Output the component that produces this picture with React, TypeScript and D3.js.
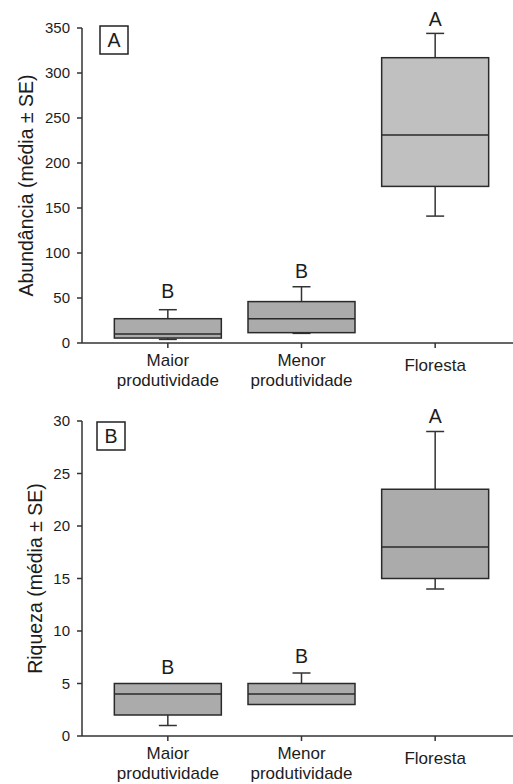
import React from "react";
import * as d3 from "d3";

const categories = ["Maior produtividade", "Menor produtividade", "Floresta"];
const categoryLines = [["Maior", "produtividade"], ["Menor", "produtividade"], ["Floresta"]];

// Abundância panel (A)
const abundLow = [4, 10.7, 141];
const abundQ1 = [5.5, 11.5, 174];
const abundMed = [10, 27, 231];
const abundQ3 = [27, 46, 317];
const abundHigh = [37, 62.5, 344];
const abundLetters = ["B", "B", "A"];
const abundLetterPos = [50, 72, 352];
const abundTicks = [0, 50, 100, 150, 200, 250, 300, 350];

// Riqueza panel (B)
const riqLow = [1, 3, 14];
const riqQ1 = [2, 3, 15];
const riqMed = [4, 4, 18];
const riqQ3 = [5, 5, 23.5];
const riqHigh = [5, 6, 29];
const riqLetters = ["B", "B", "A"];
const riqLetterPos = [5.9, 7, 29.8];
const riqTicks = [0, 5, 10, 15, 20, 25, 30];

const FONT = "'Liberation Sans', Arial, sans-serif";
const TXT = "#1c1c1c";
const LINE = "#333";

type PanelProps = {
  yMax: number;
  yTop: number;
  yBottom: number;
  ticks: number[];
  low: number[];
  q1: number[];
  med: number[];
  q3: number[];
  high: number[];
  letters: string[];
  letterPos: number[];
  fills: string[];
  title: string;
  titleX: number;
  panelLabel: string;
  panelBox: [number, number];
};

function Panel(p: PanelProps) {
  const x = d3.scalePoint<string>().domain(categories).range([101, 502]).padding(0.5);
  const y = d3.scaleLinear().domain([0, p.yMax]).range([p.yBottom, p.yTop]);
  const axisX = 82;
  const boxW = 107;
  const capW = 18;
  const y0 = y(0);
  return (
    <g>
      {/* y axis */}
      <line x1={axisX} x2={axisX} y1={y(p.yMax)} y2={y0} stroke={LINE} strokeWidth={1.5} />
      {p.ticks.map((t) => (
        <g key={t}>
          <line x1={axisX - 5} x2={axisX} y1={y(t)} y2={y(t)} stroke={LINE} strokeWidth={1.5} />
          <text x={70} y={y(t)} dy="0.36em" textAnchor="end" fontSize={15} fontFamily={FONT} fill={TXT}>
            {t}
          </text>
        </g>
      ))}
      {/* x axis */}
      <line x1={axisX} x2={513} y1={y0} y2={y0} stroke={LINE} strokeWidth={1.5} />
      {categories.map((c, i) => {
        const cx = x(c) as number;
        const lines = categoryLines[i];
        return (
          <g key={c}>
            <line x1={cx} x2={cx} y1={y0} y2={y0 + 5} stroke={LINE} strokeWidth={1.5} />
            {lines.length === 1 ? (
              <text x={cx} y={y0 + 27.5} textAnchor="middle" fontSize={17} fontFamily={FONT} fill={TXT}>
                {lines[0]}
              </text>
            ) : (
              lines.map((l, k) => (
                <text key={k} x={cx} y={y0 + 23 + k * 19.5} textAnchor="middle" fontSize={17} fontFamily={FONT} fill={TXT}>
                  {l}
                </text>
              ))
            )}
          </g>
        );
      })}
      {/* boxes */}
      {categories.map((c, i) => {
        const cx = x(c) as number;
        return (
          <g key={"b" + c}>
            {p.high[i] > p.q3[i] && (
              <>
                <line x1={cx} x2={cx} y1={y(p.q3[i])} y2={y(p.high[i])} stroke={LINE} strokeWidth={1.5} />
                <line x1={cx - capW / 2} x2={cx + capW / 2} y1={y(p.high[i])} y2={y(p.high[i])} stroke={LINE} strokeWidth={1.5} />
              </>
            )}
            {p.low[i] < p.q1[i] && (
              <>
                <line x1={cx} x2={cx} y1={y(p.q1[i])} y2={y(p.low[i])} stroke={LINE} strokeWidth={1.5} />
                <line x1={cx - capW / 2} x2={cx + capW / 2} y1={y(p.low[i])} y2={y(p.low[i])} stroke={LINE} strokeWidth={1.5} />
              </>
            )}
            <rect
              x={cx - boxW / 2}
              y={y(p.q3[i])}
              width={boxW}
              height={y(p.q1[i]) - y(p.q3[i])}
              fill={p.fills[i]}
              stroke="#2a2a2a"
              strokeWidth={1.5}
            />
            <line x1={cx - boxW / 2} x2={cx + boxW / 2} y1={y(p.med[i])} y2={y(p.med[i])} stroke="#2a2a2a" strokeWidth={1.5} />
            <text x={cx} y={y(p.letterPos[i])} textAnchor="middle" fontSize={19.5} fontFamily={FONT} fill={TXT}>
              {p.letters[i]}
            </text>
          </g>
        );
      })}
      {/* panel label */}
      <rect x={p.panelBox[0]} y={p.panelBox[1]} width={28} height={28} fill="white" stroke="#222" strokeWidth={1.5} />
      <text x={p.panelBox[0] + 14} y={p.panelBox[1] + 21} textAnchor="middle" fontSize={19.5} fontFamily={FONT} fill={TXT}>
        {p.panelLabel}
      </text>
      {/* y title */}
      <text
        transform={`translate(${p.titleX},${(y(p.yMax) + y0) / 2}) rotate(-90)`}
        textAnchor="middle"
        fontSize={19.5}
        fontFamily={FONT}
        fill={TXT}
      >
        {p.title}
      </text>
    </g>
  );
}

export default function App() {
  return (
    <svg width={513} height={784} style={{ position: "absolute", left: 0, top: 0, background: "white" }}>
      <Panel
        yMax={350}
        yTop={28}
        yBottom={343}
        ticks={abundTicks}
        low={abundLow}
        q1={abundQ1}
        med={abundMed}
        q3={abundQ3}
        high={abundHigh}
        letters={abundLetters}
        letterPos={abundLetterPos}
        fills={["#ababab", "#ababab", "#c0c0c0"]}
        title="Abundância (média ± SE)"
        titleX={33}
        panelLabel="A"
        panelBox={[100, 26]}
      />
      <Panel
        yMax={30}
        yTop={421}
        yBottom={736}
        ticks={riqTicks}
        low={riqLow}
        q1={riqQ1}
        med={riqMed}
        q3={riqQ3}
        high={riqHigh}
        letters={riqLetters}
        letterPos={riqLetterPos}
        fills={["#ababab", "#ababab", "#ababab"]}
        title="Riqueza (média ± SE)"
        titleX={42}
        panelLabel="B"
        panelBox={[97, 422]}
      />
    </svg>
  );
}
